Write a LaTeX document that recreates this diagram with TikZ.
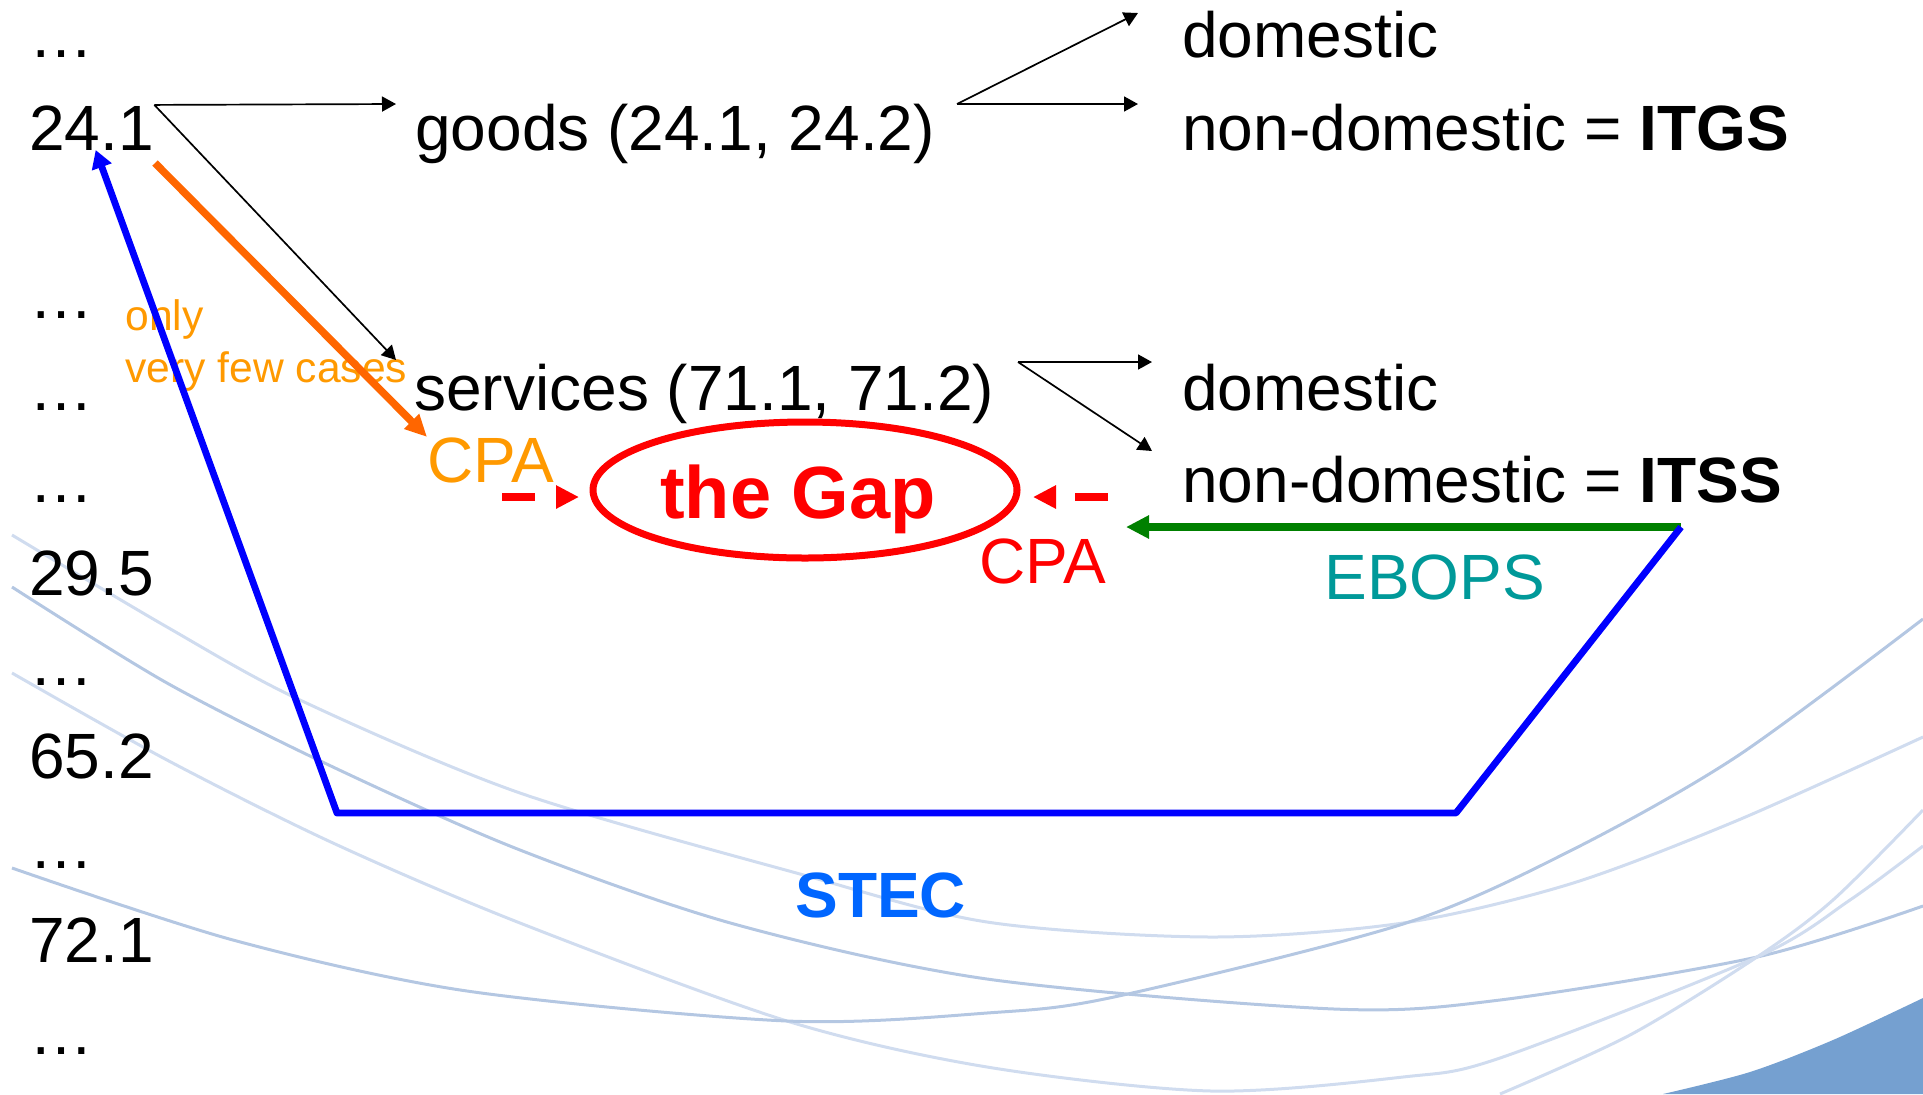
\documentclass[tikz,border=0pt]{standalone}
\usepackage{fontspec}
\setmainfont{Liberation Sans}
\usetikzlibrary{arrows.meta,shapes.geometric}

\definecolor{cpaorange}{RGB}{255,153,0}
\definecolor{arrorange}{RGB}{255,102,0}
\definecolor{eboteal}{RGB}{0,153,153}
\definecolor{stecblue}{RGB}{0,102,255}
\definecolor{ebogreen}{RGB}{0,128,0}
\definecolor{swirldark}{RGB}{180,199,226}
\definecolor{swirllight}{RGB}{208,220,239}
\definecolor{swirlfill}{RGB}{117,160,208}

\begin{document}
\begin{tikzpicture}[x=0.5pt, y=-0.5pt, line join=round,
		font=\fontsize{32}{38}\selectfont,
		txt/.style={anchor=base west, inner sep=0pt},
		note/.style={txt, text=cpaorange, font=\fontsize{21.3}{26}\selectfont},
		flow/.style={line width=0.85pt, -{Triangle[length=7pt,width=7.5pt]}},
		stecline/.style={blue, line width=3.4pt, -{Triangle[length=9pt,width=10pt]}},
		ebopsline/.style={ebogreen, line width=3.75pt, -{Triangle[length=11.5pt,width=11pt]}},
		fewline/.style={arrorange, line width=3.75pt, -{Triangle[length=11pt,width=10pt]}},
		cpadash/.style={red, line width=4.25pt, dash pattern=on 16.5pt off 15pt, -{Triangle[length=11.5pt,width=11pt]}},
		gapnode/.style={ellipse, draw=red, line width=3.5pt, minimum width=212pt, minimum height=68pt,
			inner sep=0pt, text=red, text height=28pt, text depth=0pt,
			font=\fontsize{37}{44}\selectfont\bfseries},
		swirl/.style={line width=1.5pt}]
	\useasboundingbox (0,0) rectangle (1923,1094);

	% background swirls
	\fill[swirlfill] plot[smooth] coordinates {(1663,1094) (1750,1072) (1833,1040) (1923,998)} -- (1923,1094) -- cycle;
	\draw[swirl, swirllight] plot[smooth] coordinates {(12,535) (167,627) (300,700) (520,793) (800,874) (987,922) (1211,937) (1403,923) (1570,884) (1736,821) (1923,737)};
	\draw[swirl, swirldark] plot[smooth] coordinates {(12,587) (167,683) (333,767) (520,850) (734,924) (987,979) (1334,1009) (1500,1000) (1757,957) (1923,906)};
	\draw[swirl, swirllight] plot[smooth] coordinates {(12,673) (167,760) (333,843) (520,923) (787,1021) (987,1067) (1211,1091) (1403,1077) (1500,1058) (1757,957) (1850,900) (1923,846)};
	\draw[swirl, swirldark] plot[smooth] coordinates {(12,868) (233,940) (467,991) (787,1021) (987,1013) (1114,997) (1403,924) (1570,851) (1736,757) (1923,619)};
	\draw[swirl, swirllight] plot[smooth] coordinates {(1500,1094) (1630,1035) (1757,957) (1833,900) (1923,810)};

	% code column
	\node[txt] (dots1) at (29,57) {…};
	\node[txt] (n241) at (29,150) {24.1};
	\node[txt] (dots2) at (29,318) {…};
	\node[txt] (dots3) at (29,410) {…};
	\node[txt] (dots4) at (29,502) {…};
	\node[txt] (n295) at (29,595) {29.5};
	\node[txt] (dots5) at (29,685) {…};
	\node[txt] (n652) at (29,778) {65.2};
	\node[txt] (dots6) at (29,868) {…};
	\node[txt] (n721) at (29,962) {72.1};
	\node[txt] (dots7) at (29,1054) {…};

	% products and destinations
	\node[txt] (goods) at (415,150) {goods (24.1, 24.2)};
	\node[txt] (serv) at (414,410) {services (71.1, 71.2)};
	\node[txt] (gdom) at (1182,57) {domestic};
	\node[txt] (itgs) at (1182,150) {non-domestic = \textbf{ITGS}};
	\node[txt] (sdom) at (1182,410) {domestic};
	\node[txt] (itss) at (1182,502) {non-domestic = \textbf{ITSS}};

	\node[note] (only) at (125,330) {only};
	\node[note] (fewcases) at (125,382) {very few cases};
	\node[txt, text=cpaorange] (cpaL) at (427,482) {CPA};
	\node[txt, text=red] (cpaR) at (979,583) {CPA};
	\node[txt, text=eboteal] (ebops) at (1324,599) {EBOPS};
	\node[txt, text=stecblue] (stec) at (795,917) {\textbf{STEC}};
	\node[gapnode] (gap) at (805,490) {\kern-7pt the Gap};

	% arrow ends
	\coordinate (goodsin) at (396,104);
	\coordinate (servin) at (396,360);
	\coordinate (goodsfork) at (957,104);
	\coordinate (gdomin) at (1138,13);
	\coordinate (itgsin) at (1138,104);
	\coordinate (servfork) at (1018,362);
	\coordinate (sdomin) at (1152,362);
	\coordinate (itssin) at (1152,451);
	\coordinate (fewstart) at (155,163);
	\coordinate (itssfoot) at (1681,527);
	\coordinate (ebopsin) at (1126,527);
	\coordinate (stecR) at (1456,813);
	\coordinate (stecL) at (337,813);
	\coordinate (gapLstart) at (502,497);
	\coordinate (gapLin) at (579,497);
	\coordinate (gapRstart) at (1108,497);
	\coordinate (gapRin) at (1033,497);

	\draw[flow] (n241.north east) -- (goodsin);
	\draw[flow] (n241.north east) -- (servin);
	\draw[flow] (goodsfork) -- (gdomin);
	\draw[flow] (goodsfork) -- (itgsin);
	\draw[flow] (servfork) -- (sdomin);
	\draw[flow] (servfork) -- (itssin);

	\draw[fewline] (fewstart) -- (cpaL.north west);
	\draw[cpadash] (gapLstart) -- (gapLin);
	\draw[cpadash] (gapRstart) -- (gapRin);
	\draw[ebopsline] (itssfoot) -- (ebopsin);
	\draw[stecline] (itssfoot) -- (stecR) -- (stecL) -- ([xshift=2pt]n241.base);
\end{tikzpicture}
\end{document}
